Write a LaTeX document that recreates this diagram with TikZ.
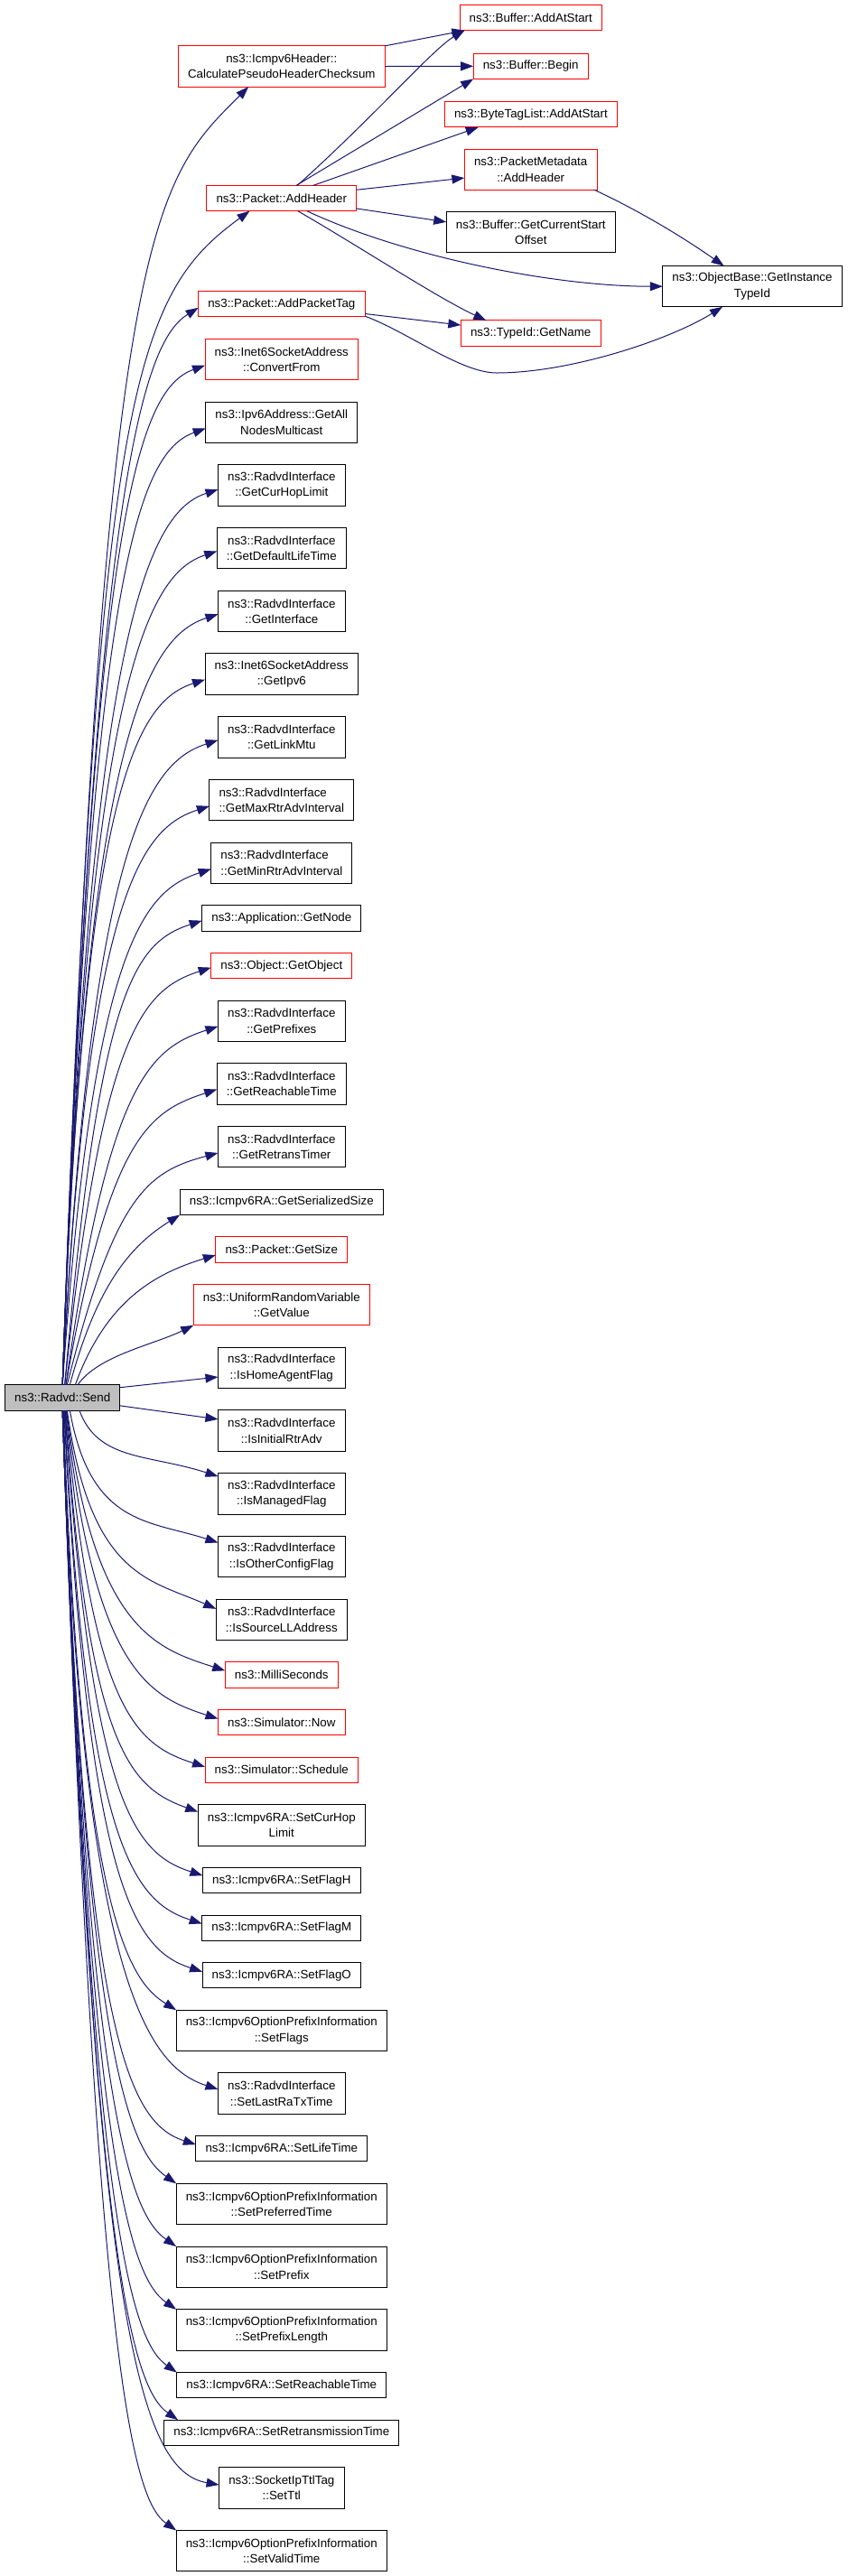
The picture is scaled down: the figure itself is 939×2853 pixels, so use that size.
\documentclass[tikz,border=0pt]{standalone}
\usepackage{fontspec}
\setmainfont{Liberation Sans}
\usetikzlibrary{arrows.meta,positioning}
\definecolor{edgeblue}{HTML}{191970}
\definecolor{curgray}{HTML}{BFBFBF}

\begin{document}
\begin{tikzpicture}[x=0.75pt,y=0.75pt,node distance=18.3pt,
	fn/.style={draw=black,line width=0.75pt,fill=white,inner xsep=8pt,inner ysep=2pt,outer sep=0pt,minimum height=21.15pt,align=center,font=\fontsize{10pt}{13pt}\selectfont},
	fn2/.style={fn,minimum height=34pt},
	trunc/.style={draw=red},
	cur/.style={fn,fill=curgray},
	call/.style={draw=edgeblue,line width=0.75pt,-{Triangle[length=10.5pt,width=7.5pt]}}]
	\useasboundingbox (0,0) rectangle (939,-2853);

	\node[cur] (send) at (69.2,-1547.9) {ns3::Radvd::Send};

	\node[fn2,trunc] (calc) at (311.8,-73.5) {ns3::Icmpv6Header::\\CalculatePseudoHeaderChecksum};
	\node[fn,trunc] (addhdr) [below=82pt of calc] {ns3::Packet::AddHeader};
	\node[fn,trunc] (addtag) [below=66.75pt of addhdr] {ns3::Packet::AddPacketTag};
	\node[fn2,trunc] (convfrom) [below=of addtag] {ns3::Inet6SocketAddress\\::ConvertFrom};
	\node[fn2] (allnodes) [below=of convfrom] {ns3::Ipv6Address::GetAll\\NodesMulticast};
	\node[fn2] (curhop) [below=of allnodes] {ns3::RadvdInterface\\::GetCurHopLimit};
	\node[fn2] (deflife) [below=of curhop] {ns3::RadvdInterface\\::GetDefaultLifeTime};
	\node[fn2] (getif) [below=of deflife] {ns3::RadvdInterface\\::GetInterface};
	\node[fn2] (getipv6) [below=of getif] {ns3::Inet6SocketAddress\\::GetIpv6};
	\node[fn2] (linkmtu) [below=of getipv6] {ns3::RadvdInterface\\::GetLinkMtu};
	\node[fn2,align=left] (maxrtr) [below=of linkmtu] {ns3::RadvdInterface\\::GetMaxRtrAdvInterval};
	\node[fn2,align=left] (minrtr) [below=of maxrtr] {ns3::RadvdInterface\\::GetMinRtrAdvInterval};
	\node[fn] (getnode) [below=of minrtr] {ns3::Application::GetNode};
	\node[fn,trunc] (getobj) [below=of getnode] {ns3::Object::GetObject};
	\node[fn2] (prefixes) [below=of getobj] {ns3::RadvdInterface\\::GetPrefixes};
	\node[fn2] (reachable) [below=of prefixes] {ns3::RadvdInterface\\::GetReachableTime};
	\node[fn2] (retrans) [below=of reachable] {ns3::RadvdInterface\\::GetRetransTimer};
	\node[fn] (sersize) [below=of retrans] {ns3::Icmpv6RA::GetSerializedSize};
	\node[fn,trunc] (getsize) [below=of sersize] {ns3::Packet::GetSize};
	\node[fn2,trunc] (getvalue) [below=of getsize] {ns3::UniformRandomVariable\\::GetValue};
	\node[fn2] (homeagent) [below=of getvalue] {ns3::RadvdInterface\\::IsHomeAgentFlag};
	\node[fn2] (initrtr) [below=of homeagent] {ns3::RadvdInterface\\::IsInitialRtrAdv};
	\node[fn2] (managed) [below=of initrtr] {ns3::RadvdInterface\\::IsManagedFlag};
	\node[fn2] (otherconf) [below=of managed] {ns3::RadvdInterface\\::IsOtherConfigFlag};
	\node[fn2] (srcll) [below=of otherconf] {ns3::RadvdInterface\\::IsSourceLLAddress};
	\node[fn,trunc] (millisec) [below=of srcll] {ns3::MilliSeconds};
	\node[fn,trunc] (simnow) [below=of millisec] {ns3::Simulator::Now};
	\node[fn,trunc] (schedule) [below=of simnow] {ns3::Simulator::Schedule};
	\node[fn2] (setcurhop) [below=of schedule] {ns3::Icmpv6RA::SetCurHop\\Limit};
	\node[fn] (flagh) [below=of setcurhop] {ns3::Icmpv6RA::SetFlagH};
	\node[fn] (flagm) [below=of flagh] {ns3::Icmpv6RA::SetFlagM};
	\node[fn] (flago) [below=of flagm] {ns3::Icmpv6RA::SetFlagO};
	\node[fn2] (setflags) [below=of flago] {ns3::Icmpv6OptionPrefixInformation\\::SetFlags};
	\node[fn2] (lastra) [below=of setflags] {ns3::RadvdInterface\\::SetLastRaTxTime};
	\node[fn] (setlife) [below=of lastra] {ns3::Icmpv6RA::SetLifeTime};
	\node[fn2] (preftime) [below=of setlife] {ns3::Icmpv6OptionPrefixInformation\\::SetPreferredTime};
	\node[fn2] (setprefix) [below=of preftime] {ns3::Icmpv6OptionPrefixInformation\\::SetPrefix};
	\node[fn2] (prefixlen) [below=of setprefix] {ns3::Icmpv6OptionPrefixInformation\\::SetPrefixLength};
	\node[fn] (setreach) [below=of prefixlen] {ns3::Icmpv6RA::SetReachableTime};
	\node[fn] (setretrans) [below=of setreach] {ns3::Icmpv6RA::SetRetransmissionTime};
	\node[fn2] (setttl) [below=of setretrans] {ns3::SocketIpTtlTag\\::SetTtl};
	\node[fn2] (validtime) [below=of setttl] {ns3::Icmpv6OptionPrefixInformation\\::SetValidTime};

	\node[fn,trunc] (bufstart) at (587.8,-19.7) {ns3::Buffer::AddAtStart};
	\node[fn,trunc] (bufbegin) at (587.7,-73.3) {ns3::Buffer::Begin};
	\node[fn,trunc] (bytetag) at (587.9,-126.8) {ns3::ByteTagList::AddAtStart};
	\node[fn2,trunc] (pmeta) at (587.7,-187.7) {ns3::PacketMetadata\\::AddHeader};
	\node[fn2] (curstart) at (587.8,-257.2) {ns3::Buffer::GetCurrentStart\\Offset};
	\node[fn,trunc] (getname) at (587.7,-369) {ns3::TypeId::GetName};
	\node[fn2] (typeid) at (833,-317.2) {ns3::ObjectBase::GetInstance\\TypeId};
	\coordinate (tagdip) at (550,-413);

	\draw[call] (send.north) .. controls +(88:1290) and +(225:150) .. ([xshift=-27.5pt]calc.south);
	\draw[call] (send.north) .. controls +(88:1100) and +(216:160) .. ([xshift=-26.5pt]addhdr.south);
	\draw[call] (send.north) .. controls +(88:1014) and +(212:70) .. ([yshift=-3pt]addtag.west);
	\draw[call] (send.north) .. controls +(88:960) and +(200:80) .. ([yshift=-5pt]convfrom.west);
	\draw[call] (send.north) .. controls +(88:900) and +(200:80) .. ([yshift=-5pt]allnodes.west);
	\draw[call] (send.north) .. controls +(88:843) and +(198:80) .. ([yshift=-3.5pt]curhop.west);
	\draw[call] (send.north) .. controls +(88:785) and +(198:80) .. ([yshift=-2.5pt]deflife.west);
	\draw[call] (send.north) .. controls +(88:726) and +(198:80) .. ([yshift=-2.5pt]getif.west);
	\draw[call] (send.north) .. controls +(88:664) and +(198:80) .. ([yshift=-4.5pt]getipv6.west);
	\draw[call] (send.north) .. controls +(87:607) and +(198:80) .. ([yshift=-2.5pt]linkmtu.west);
	\draw[call] (send.north) .. controls +(87:545) and +(198:80) .. ([yshift=-5pt]maxrtr.west);
	\draw[call] (send.north) .. controls +(86:485) and +(198:80) .. ([yshift=-5pt]minrtr.west);
	\draw[call] (send.80) .. controls +(85:437) and +(198:80) .. ([yshift=-2pt]getnode.west);
	\draw[call] (send.80) .. controls +(84:393) and +(198:80) .. ([yshift=-1.5pt]getobj.west);
	\draw[call] (send.75) .. controls +(82:337) and +(198:80) .. ([yshift=-4.5pt]prefixes.west);
	\draw[call] (send.75) .. controls +(80:278) and +(198:80) .. ([yshift=-4.5pt]reachable.west);
	\draw[call] (send.70) .. controls +(76:218) and +(195:80) .. ([yshift=-5pt]retrans.west);
	\draw[call] (send.60) .. controls +(75:120) and +(212:60) .. (sersize.south west);
	\draw[call] (send.45) .. controls +(70:100) and +(197:70) .. ([yshift=-4.5pt]getsize.west);
	\draw[call] (send.40) .. controls +(55:40) and +(206:50) .. (getvalue.south west);
	\draw[call] (send.10) -- ([yshift=-7.6pt]homeagent.west);
	\draw[call] (send.-8) -- ([yshift=9.6pt]initrtr.west);
	\draw[call] (send.-37) .. controls +(-70:60) and +(162:80) .. ([yshift=14.4pt]managed.west);
	\draw[call] (send.-60) .. controls +(-80:130) and +(162:80) .. ([yshift=11.7pt]otherconf.west);
	\draw[call] (send.-70) .. controls +(-82:187) and +(156:80) .. ([yshift=9pt]srcll.west);
	\draw[call] (send.-72) .. controls +(-83:245) and +(162:80) .. ([yshift=3.5pt]millisec.west);
	\draw[call] (send.-74) .. controls +(-84:290) and +(162:80) .. ([yshift=3pt]simnow.west);
	\draw[call] (send.-76) .. controls +(-85:336) and +(162:80) .. ([yshift=2.5pt]schedule.west);
	\draw[call] (send.-78) .. controls +(-86:378) and +(160:80) .. ([yshift=11pt]setcurhop.west);
	\draw[call] (send.-80) .. controls +(-86:438) and +(162:80) .. ([yshift=4pt]flagh.west);
	\draw[call] (send.-82) .. controls +(-87:483) and +(162:80) .. ([yshift=3.5pt]flagm.west);
	\draw[call] (send.-84) .. controls +(-87:528) and +(162:80) .. ([yshift=3pt]flago.west);
	\draw[call] (send.-86) .. controls +(-88:565) and +(148:60) .. (setflags.north west);
	\draw[call] (send.south) .. controls +(-88:638) and +(162:80) .. ([yshift=3.5pt]lastra.west);
	\draw[call] (send.south) .. controls +(-88:691) and +(162:80) .. ([yshift=3.5pt]setlife.west);
	\draw[call] (send.south) .. controls +(-88:728) and +(145:60) .. (preftime.north west);
	\draw[call] (send.south) .. controls +(-88:787) and +(145:60) .. (setprefix.north west);
	\draw[call] (send.south) .. controls +(-88:846) and +(145:60) .. (prefixlen.north west);
	\draw[call] (send.south) .. controls +(-88:905) and +(145:60) .. (setreach.north west);
	\draw[call] (send.south) .. controls +(-88:951) and +(145:60) .. ([xshift=11.5pt]setretrans.north west);
	\draw[call] (send.south) .. controls +(-88:1012) and +(170:90) .. ([yshift=2.5pt]setttl.west);
	\draw[call] (send.south) .. controls +(-88:1055) and +(145:60) .. (validtime.north west);

	\draw[call] (calc.north east) -- ([xshift=4pt]bufstart.south west);
	\draw[call] (calc.east) -- (bufbegin.west);
	\draw[call] ([xshift=13pt]addhdr.north) .. controls +(42:120) and +(210:40) .. ([xshift=4pt]bufstart.south west);
	\draw[call] ([xshift=12pt]addhdr.north) -- (bufbegin.south west);
	\draw[call] ([xshift=26pt]addhdr.north) -- ([xshift=28pt]bytetag.south west);
	\draw[call] ([yshift=7pt]addhdr.east) -- ([yshift=-7pt]pmeta.west);
	\draw[call] ([yshift=-8.5pt]addhdr.east) -- ([yshift=8.5pt]curstart.west);
	\draw[call] ([xshift=21pt]addhdr.south) .. controls +(-25:120) and +(180:120) .. (typeid.west);
	\draw[call] ([xshift=13.5pt]addhdr.south) .. controls +(-30:80) and +(155:60) .. ([xshift=21pt]getname.north west);
	\draw[call] ([xshift=-2pt]pmeta.south east) .. controls +(-25:60) and +(145:50) .. ([xshift=-23.5pt]typeid.north);
	\draw[call] ([yshift=-8pt]addtag.east) -- ([yshift=6.7pt]getname.west);
	\draw[call] ([yshift=-10pt]addtag.east) .. controls +(-20:50) and +(180:40) .. (tagdip)
		.. controls +(0:80) and +(212:70) .. ([xshift=-24.75pt]typeid.south);
\end{tikzpicture}
\end{document}
